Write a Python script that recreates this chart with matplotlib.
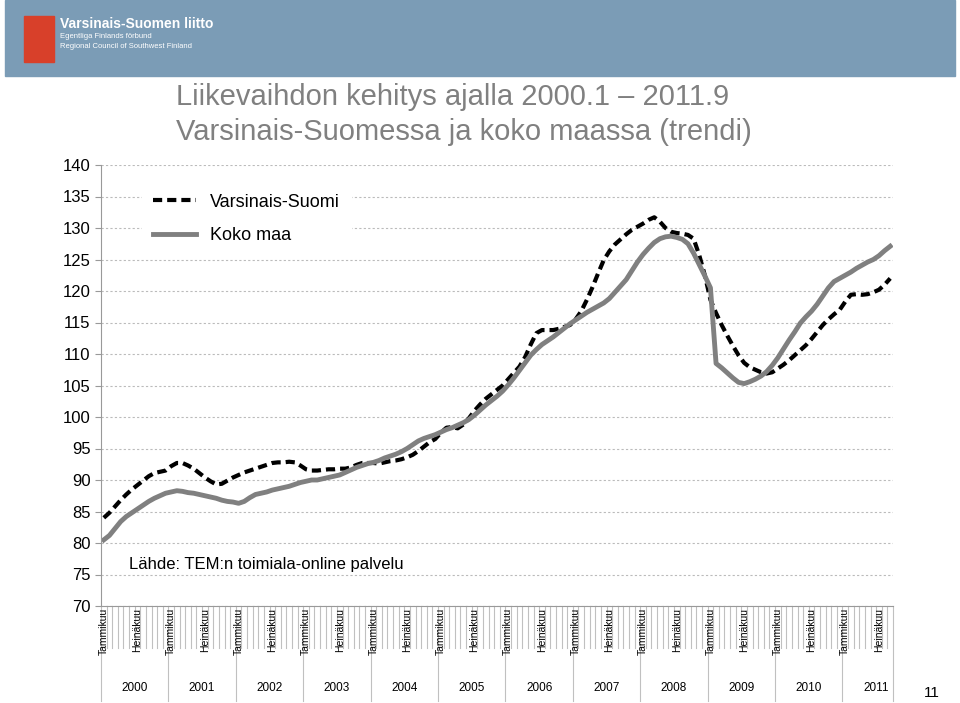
import matplotlib.pyplot as plt
import matplotlib.transforms as mtransforms
from matplotlib.patches import Rectangle

plt.rcParams["font.family"] = ["Liberation Sans", "DejaVu Sans"]

# Kuukausittaiset trendiarvot 2000.1 - 2011.9
varsinais_suomi = [
    84.0, 84.8, 85.8, 86.8, 87.7, 88.5, 89.2, 89.9, 90.6, 91.1, 91.3, 91.5,
    92.2, 92.7, 92.7, 92.3, 91.8, 91.1, 90.4, 89.8, 89.3, 89.4, 89.9, 90.4,
    90.8, 91.2, 91.5, 91.8, 92.1, 92.4, 92.7, 92.8, 92.8, 92.9, 92.8, 92.3,
    91.7, 91.5, 91.5, 91.6, 91.7, 91.7, 91.8, 91.8, 92.0, 92.4, 92.7, 92.7,
    92.7, 92.6, 92.8, 93.0, 93.1, 93.3, 93.6, 94.0, 94.6, 95.3, 96.0, 96.5,
    97.5, 98.3, 98.4, 98.2, 98.8, 99.8, 101.0, 102.0, 102.9, 103.6, 104.3, 105.0,
    106.0, 107.0, 108.0, 109.5, 111.5, 113.3, 113.8, 113.8, 113.8, 114.0, 114.3, 114.6,
    115.5, 116.8, 118.6, 120.6, 122.8, 124.9, 126.3, 127.4, 128.2, 129.0, 129.7, 130.2,
    130.7, 131.3, 131.7, 131.0, 130.0, 129.4, 129.2, 129.1, 128.9, 128.3, 125.7, 122.5,
    118.6, 116.5, 114.6, 112.9, 111.3, 109.8, 108.6, 107.9, 107.5, 107.1, 106.9, 107.1,
    107.7, 108.3, 109.0, 109.8, 110.6, 111.4, 112.4, 113.5, 114.6, 115.5, 116.3, 117.0,
    118.3, 119.4, 119.5, 119.4, 119.5, 119.8, 120.2, 121.0, 122.0,
]
koko_maa = [
    80.5, 81.2, 82.3, 83.4, 84.2, 84.8, 85.4, 86.0, 86.6, 87.1, 87.5, 87.9,
    88.1, 88.3, 88.2, 88.0, 87.9, 87.7, 87.5, 87.3, 87.1, 86.8, 86.6, 86.5,
    86.3, 86.6, 87.2, 87.7, 87.9, 88.1, 88.4, 88.6, 88.8, 89.0, 89.3, 89.6,
    89.8, 90.0, 90.0, 90.2, 90.4, 90.6, 90.8, 91.2, 91.6, 92.0, 92.3, 92.6,
    92.8, 93.1, 93.5, 93.8, 94.1, 94.5, 95.0, 95.6, 96.2, 96.6, 96.9, 97.2,
    97.6, 98.0, 98.3, 98.7, 99.1, 99.6, 100.3, 101.1, 101.9, 102.6, 103.3, 104.1,
    105.1, 106.2, 107.4, 108.6, 109.8, 110.7, 111.5, 112.1, 112.7, 113.4, 114.1, 114.8,
    115.4, 116.0, 116.6, 117.1, 117.6, 118.1, 118.8, 119.8, 120.8, 121.8, 123.2, 124.6,
    125.8, 126.8, 127.7, 128.3, 128.6, 128.7, 128.5, 128.2, 127.5, 126.0, 124.2, 122.4,
    120.5, 108.5, 107.8, 107.0, 106.2, 105.5, 105.3, 105.6, 106.0, 106.5, 107.2, 108.2,
    109.4, 110.8, 112.2, 113.5, 114.9, 115.9, 116.8, 117.9, 119.2, 120.5, 121.5, 122.0,
    122.5, 123.0, 123.6, 124.1, 124.6, 125.0, 125.6, 126.4, 127.1,
]
vuodet = [str(v) for v in range(2000, 2012)]
kuukausi_nimet = {0: "Tammikuu", 6: "Heinäkuu"}

fig = plt.figure(figsize=(9.6, 7.03), dpi=100)
W, H = 960, 703

# Ylätunnistepalkki
fig.patches.append(Rectangle((5 / W, 1 - 76 / H), 950 / W, 76 / H,
                             transform=fig.transFigure, color="#7b9cb6", zorder=0))
fig.text(60 / W, 1 - 24 / H, "Varsinais-Suomen liitto", color="white",
         fontsize=10, fontweight="bold", va="center")
fig.text(60 / W, 1 - 37 / H, "Egentliga Finlands förbund", color="white", fontsize=5.5, va="center")
fig.text(60 / W, 1 - 46 / H, "Regional Council of Southwest Finland", color="white", fontsize=5.5, va="center")
fig.patches.append(Rectangle((24 / W, 1 - 62 / H), 30 / W, 46 / H,
                             transform=fig.transFigure, color="#d8402a", zorder=1))

otsikko = ["Liikevaihdon kehitys ajalla 2000.1 – 2011.9",
           "Varsinais-Suomessa ja koko maassa (trendi)"]
for rivi, y in zip(otsikko, [97, 132]):
    fig.text(176 / W, 1 - y / H, rivi, fontsize=21, color="#808080", va="center")
fig.text(932 / W, 1 - 693 / H, "11", fontsize=11, ha="center", va="center")

ax = fig.add_axes([101 / W, 1 - 606 / H, 792 / W, 441 / H])
x = list(range(len(varsinais_suomi)))
ax.plot(x, varsinais_suomi, color="black", linestyle=(0, (2.2, 1.2)), linewidth=3,
        label="Varsinais-Suomi")
ax.plot(x, koko_maa, color="#808080", linewidth=3.5, label="Koko maa")

ax.set_ylim(70, 140)
ax.set_xlim(-0.5, 140.5)
ax.set_yticks(range(70, 141, 5))
ax.tick_params(axis="y", labelsize=12, length=4, color="#999999")
ax.set_xticks([])
ax.grid(axis="y", linestyle=(0, (2, 2)), color="#bbbbbb", linewidth=0.8)
for s in ["top", "right"]:
    ax.spines[s].set_visible(False)
ax.spines["left"].set_color("#999999")
ax.spines["bottom"].set_color("#999999")

leg = ax.legend(loc="upper left", bbox_to_anchor=(0.04, 0.98), frameon=True,
                fancybox=False, edgecolor="white", fontsize=13, handlelength=2.4,
                labelspacing=0.9, borderpad=0.6)
leg.get_frame().set_alpha(1)

ax.text(0.035, 0.085, "Lähde: TEM:n toimiala-online palvelu", transform=ax.transAxes,
        fontsize=12)

# Kuukausi- ja vuosiakseli
tr = mtransforms.blended_transform_factory(ax.transData, ax.transAxes)
ymonth = -42 / 441
yyear = -95 / 441
for i in x:
    lo = yyear if i % 12 == 0 else ymonth
    ax.plot([i - 0.5, i - 0.5], [0, lo], color="#c0c0c0", linewidth=0.8,
            transform=tr, clip_on=False)
    if i % 12 in kuukausi_nimet:
        ax.text(i, -0.005, kuukausi_nimet[i % 12], rotation=90, ha="center", va="top",
                fontsize=7.5, transform=tr)
ax.plot([140.5, 140.5], [0, yyear], color="#c0c0c0", linewidth=0.8, transform=tr, clip_on=False)
for k, v in enumerate(vuodet):
    ax.text(k * 12 + 5.5, -82 / 441, v, ha="center", va="center", fontsize=8.5, transform=tr)

fig.savefig("out.png", dpi=100)
